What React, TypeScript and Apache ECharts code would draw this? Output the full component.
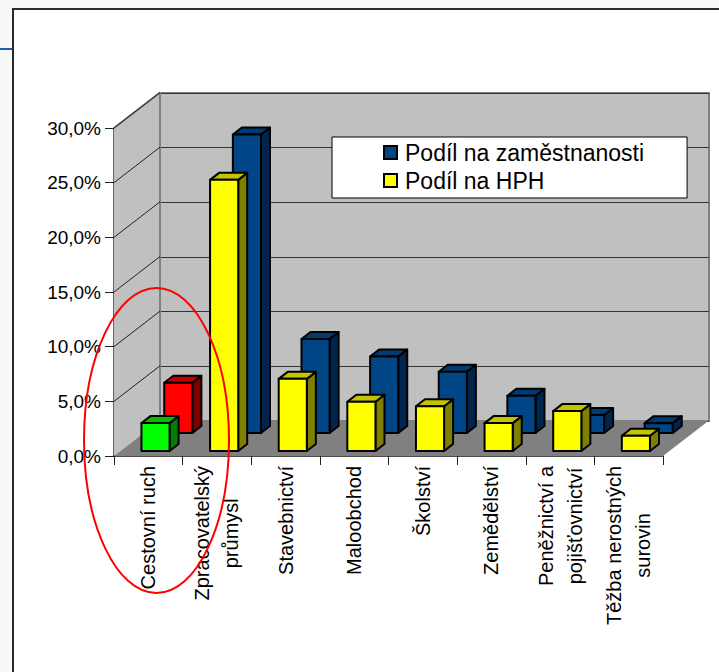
import React, { useEffect, useRef } from "react";
import * as echarts from "echarts";

const categories = [
  "Cestovní ruch",
  "Zpracovatelský\nprůmysl",
  "Stavebnictví",
  "Maloobchod",
  "Školství",
  "Zemědělství",
  "Peněžnictví a\npojišťovnictví",
  "Těžba nerostných\nsurovin",
];
const podilNaZamestnanosti = [4.6, 27.3, 8.6, 7.0, 5.6, 3.4, 1.65, 0.9];
const podilNaHPH = [2.55, 24.8, 6.6, 4.5, 4.1, 2.55, 3.65, 1.4];
const yTicks = [0, 5, 10, 15, 20, 25, 30];
const highlightedIndex = 0;

const FONT = '"Liberation Sans", Arial, sans-serif';
const DEPTH_X = 46;
const DEPTH_Y = -35.5;
const BAR_DX = 9;
const BAR_DY = -7;
const BAR_W = 0.41;

type Face = { front: string; side: string; top: string };
const BLUE: Face = { front: "#004586", side: "#00264D", top: "#003A70" };
const YELLOW: Face = { front: "#FFFF00", side: "#808000", top: "#C4C400" };
const RED: Face = { front: "#FF0000", side: "#800000", top: "#C00000" };
const GREEN: Face = { front: "#00FF00", side: "#008000", top: "#00C000" };

const makeBar = (face: Face, hi: Face, offset: number, lift: number) => (_p: any, api: any) => {
  const i = api.value(0);
  const v = api.value(1);
  const c = i === highlightedIndex ? hi : face;
  const band = api.size([1, 0])[0];
  const [cx, y0] = api.coord([i, 0]);
  const [, yv] = api.coord([i, v]);
  const l = cx + band * offset;
  const r = l + band * BAR_W;
  const b = y0 - lift;
  const t = yv - lift;
  const style = (fill: string) => ({ fill, stroke: "#000", lineWidth: 2, lineJoin: "round" });
  return {
    type: "group",
    children: [
      { type: "polygon", shape: { points: [[r, b], [r + BAR_DX, b + BAR_DY], [r + BAR_DX, t + BAR_DY], [r, t]] }, style: style(c.side) },
      { type: "polygon", shape: { points: [[l, t], [r, t], [r + BAR_DX, t + BAR_DY], [l + BAR_DX, t + BAR_DY]] }, style: style(c.top) },
      { type: "rect", shape: { x: l, y: t, width: r - l, height: b - t }, style: style(c.front) },
    ],
  };
};

const renderWalls = (params: any) => {
  const g = params.coordSys;
  const x0 = g.x;
  const x1 = g.x + g.width;
  const yT = g.y;
  const yB = g.y + g.height;
  return {
    type: "group",
    children: [
      { type: "polygon", shape: { points: [[x0, yT], [x0 + DEPTH_X, yT + DEPTH_Y], [x0 + DEPTH_X, yB + DEPTH_Y], [x0, yB]] }, style: { fill: "#C0C0C0" } },
      { type: "polygon", shape: { points: [[x0, yB], [x1, yB], [x1 + DEPTH_X, yB + DEPTH_Y], [x0 + DEPTH_X, yB + DEPTH_Y]] }, style: { fill: "#808080" } },
      { type: "line", shape: { x1: x0, y1: yT, x2: x0 + DEPTH_X, y2: yT + DEPTH_Y }, style: { stroke: "#808080", lineWidth: 2 } },
      { type: "line", shape: { x1: x0 + DEPTH_X, y1: yT + DEPTH_Y, x2: x0 + DEPTH_X, y2: yB + DEPTH_Y }, style: { stroke: "#808080", lineWidth: 2 } },
    ],
  };
};

const renderDiagonal = (_p: any, api: any) => {
  const v = api.value(1);
  const p = api.coord([0, v]);
  const x0 = _p.coordSys.x;
  return {
    type: "line",
    shape: { x1: x0, y1: p[1], x2: x0 + DEPTH_X, y2: p[1] + DEPTH_Y },
    style: { stroke: "#222", lineWidth: 1 },
  };
};

const xLabel = (s: string) =>
  s
    .split("\n")
    .map((line) => `{c|${line}}`)
    .join("\n");

export default function App() {
  const ref = useRef<HTMLDivElement>(null);
  useEffect(() => {
    const chart = echarts.init(ref.current!, null, { renderer: "svg" });
    chart.setOption({
      animation: false,
      backgroundColor: "#F8F8F8",
      textStyle: { fontFamily: FONT },
      grid: [
        { left: 114, top: 128, width: 549, height: 328, containLabel: false },
        { left: 160, top: 93, width: 549, height: 328, show: true, backgroundColor: "#C0C0C0", borderColor: "#808080", borderWidth: 2 },
      ],
      xAxis: [
        {
          type: "category",
          gridIndex: 0,
          data: categories,
          axisLine: { show: true, lineStyle: { color: "#111", width: 1.5 } },
          axisTick: { show: true, length: 9, alignWithLabel: false, lineStyle: { color: "#222", width: 1 } },
          splitLine: { show: false },
          axisLabel: {
            interval: 0,
            rotate: 90,
            margin: 10,
            color: "#000",
            hideOverlap: false,
            formatter: xLabel,
            rich: { c: { fontFamily: FONT, fontSize: 20, lineHeight: 29, align: "center", color: "#000" } },
          },
        },
        { type: "value", gridIndex: 1, min: 0, max: 1, show: false },
      ],
      yAxis: [
        {
          type: "value",
          gridIndex: 0,
          min: 0,
          max: 30,
          interval: 5,
          axisLine: { show: true, lineStyle: { color: "#333", width: 1.5 } },
          axisTick: { show: true, length: 9, lineStyle: { color: "#222", width: 1 } },
          splitLine: { show: false },
          axisLabel: {
            margin: 13,
            color: "#000",
            fontFamily: FONT,
            fontSize: 19,
            formatter: (v: number) => v.toFixed(1).replace(".", ",") + "%",
          },
        },
        {
          type: "value",
          gridIndex: 1,
          min: 0,
          max: 30,
          interval: 5,
          axisLine: { show: false },
          axisTick: { show: false },
          axisLabel: { show: false },
          splitLine: { show: true, lineStyle: { color: "#333", width: 1 } },
        },
      ],
      legend: {
        show: true,
        orient: "vertical",
        left: 332,
        top: 137,
        padding: [4, 43, 6, 51],
        backgroundColor: "#FFF",
        borderColor: "#000",
        borderWidth: 1,
        borderRadius: 0,
        itemWidth: 13,
        itemHeight: 13,
        itemGap: 5,
        selectedMode: false,
        icon: "rect",
        data: ["Podíl na zaměstnanosti", "Podíl na HPH"],
        textStyle: { fontFamily: FONT, fontSize: 23, lineHeight: 20, color: "#000", padding: [0, 0, 0, 3] },
      },
      series: [
        {
          type: "custom",
          name: "walls",
          xAxisIndex: 0,
          yAxisIndex: 0,
          z: 1,
          silent: true,
          clip: false,
          data: [[0, 0]],
          renderItem: renderWalls,
        },
        {
          type: "custom",
          name: "side gridlines",
          xAxisIndex: 0,
          yAxisIndex: 0,
          z: 1,
          silent: true,
          clip: false,
          data: yTicks.slice(1).map((v) => [0, v]),
          encode: { x: 0, y: 1 },
          renderItem: renderDiagonal,
        },
        {
          type: "custom",
          name: "Podíl na zaměstnanosti",
          xAxisIndex: 0,
          yAxisIndex: 0,
          z: 3,
          clip: false,
          itemStyle: { color: BLUE.front, borderColor: "#000", borderWidth: 1.5 },
          data: podilNaZamestnanosti.map((v, i) => [i, v]),
          encode: { x: 0, y: 1 },
          renderItem: makeBar(BLUE, RED, 0.232, 23),
        },
        {
          type: "custom",
          name: "Podíl na HPH",
          xAxisIndex: 0,
          yAxisIndex: 0,
          z: 4,
          clip: false,
          itemStyle: { color: YELLOW.front, borderColor: "#000", borderWidth: 1.5 },
          data: podilNaHPH.map((v, i) => [i, v]),
          encode: { x: 0, y: 1 },
          renderItem: makeBar(YELLOW, GREEN, -0.1, 5),
        },
      ],
      graphic: [
        { type: "rect", z: -10, shape: { x: 13, y: 9, width: 720, height: 680 }, style: { fill: "#FFF", stroke: "#2A2A2A", lineWidth: 2 } },
        { type: "line", z: -10, shape: { x1: 0, y1: 49, x2: 12, y2: 49 }, style: { stroke: "#1F5FA8", lineWidth: 2 } },
        { type: "ellipse", z: 100, shape: { cx: 156.5, cy: 440.5, rx: 72.5, ry: 152.5 }, style: { fill: "none", stroke: "#FF0000", lineWidth: 2 } },
      ],
    });
    return () => chart.dispose();
  }, []);
  return <div ref={ref} style={{ position: "absolute", left: 0, top: 0, width: 719, height: 672 }} />;
}
